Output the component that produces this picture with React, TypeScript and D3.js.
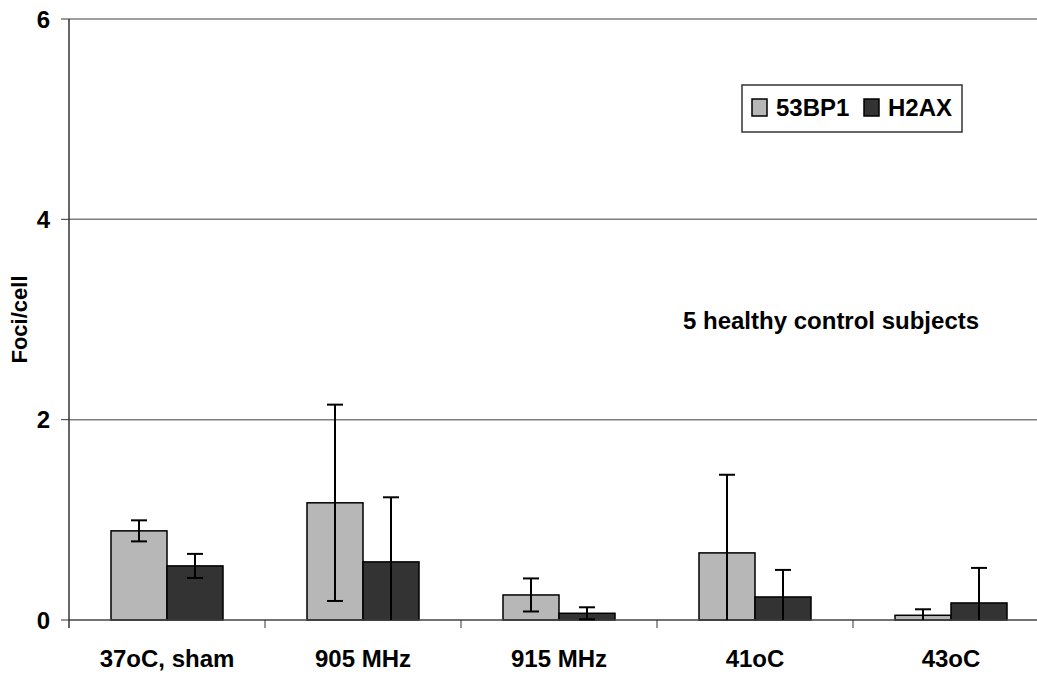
import React, { useEffect, useRef } from "react";
import * as d3 from "d3";

const categories = ["37oC, sham", "905 MHz", "915 MHz", "41oC", "43oC"];
const seriesNames = ["53BP1", "H2AX"];
const values53BP1 = [0.89, 1.17, 0.25, 0.67, 0.047];
const errors53BP1 = [0.105, 0.98, 0.165, 0.78, 0.06];
const valuesH2AX = [0.54, 0.58, 0.067, 0.23, 0.17];
const errorsH2AX = [0.12, 0.645, 0.06, 0.27, 0.35];
const yTicks = [0, 2, 4, 6];
const seriesColors = ["#b7b7b7", "#333333"];
const note = "5 healthy control subjects";

const W = 1037;
const H = 678;
const FONT = "'Liberation Sans', Arial, sans-serif";

export default function App() {
  const ref = useRef<SVGSVGElement>(null);

  useEffect(() => {
    const svg = d3.select(ref.current);
    svg.selectAll("*").remove();

    const x = d3.scaleBand().domain(categories).range([69, 1049]).paddingInner(0).paddingOuter(0);
    const xs = d3.scaleBand().domain(seriesNames).range([0, x.bandwidth()]).paddingInner(0).paddingOuter(0.75);
    const y = d3.scaleLinear().domain([0, 6]).range([620, 19]);

    // gridlines
    svg.append("g")
      .selectAll("line")
      .data(yTicks.filter((t) => t > 0))
      .join("line")
      .attr("x1", 69)
      .attr("x2", W)
      .attr("y1", (d) => y(d))
      .attr("y2", (d) => y(d))
      .attr("stroke", "#7f7f7f")
      .attr("stroke-width", 1.5);

    // y ticks + labels
    const yAxis = svg.append("g");
    yAxis.selectAll("line")
      .data(yTicks)
      .join("line")
      .attr("x1", 61)
      .attr("x2", 69)
      .attr("y1", (d) => y(d))
      .attr("y2", (d) => y(d))
      .attr("stroke", "#333")
      .attr("stroke-width", 1);
    yAxis.selectAll("text")
      .data(yTicks)
      .join("text")
      .attr("x", 50)
      .attr("y", (d) => y(d))
      .attr("dy", "0.36em")
      .attr("text-anchor", "end")
      .attr("font-family", FONT)
      .attr("font-weight", "bold")
      .attr("font-size", 24)
      .text((d) => d);

    svg.append("text")
      .attr("transform", `translate(27,${y(3)}) rotate(-90)`)
      .attr("text-anchor", "middle")
      .attr("font-family", FONT)
      .attr("font-weight", "bold")
      .attr("font-size", 22)
      .text("Foci/cell");

    // bars
    const rows = categories.map((c, i) => [
      { cat: c, s: seriesNames[0], v: values53BP1[i], e: errors53BP1[i], color: seriesColors[0] },
      { cat: c, s: seriesNames[1], v: valuesH2AX[i], e: errorsH2AX[i], color: seriesColors[1] },
    ]).flat();

    svg.append("g")
      .selectAll("rect")
      .data(rows)
      .join("rect")
      .attr("x", (d) => x(d.cat)! + xs(d.s)!)
      .attr("y", (d) => y(d.v))
      .attr("width", xs.bandwidth())
      .attr("height", (d) => y(0) - y(d.v))
      .attr("fill", (d) => d.color)
      .attr("stroke", "#000")
      .attr("stroke-width", 1.5);

    // x axis
    svg.append("line")
      .attr("x1", 69).attr("x2", W)
      .attr("y1", y(0)).attr("y2", y(0))
      .attr("stroke", "#444").attr("stroke-width", 1.5);
    svg.append("line")
      .attr("x1", 69).attr("x2", 69)
      .attr("y1", y(6)).attr("y2", 628)
      .attr("stroke", "#333").attr("stroke-width", 1.5);
    svg.append("g")
      .selectAll("line")
      .data(categories)
      .join("line")
      .attr("x1", (d) => x(d)! + x.bandwidth())
      .attr("x2", (d) => x(d)! + x.bandwidth())
      .attr("y1", y(0))
      .attr("y2", 628)
      .attr("stroke", "#333");
    svg.append("g")
      .selectAll("text")
      .data(categories)
      .join("text")
      .attr("x", (d) => x(d)! + x.bandwidth() / 2)
      .attr("y", 667)
      .attr("text-anchor", "middle")
      .attr("font-family", FONT)
      .attr("font-weight", "bold")
      .attr("font-size", 24)
      .text((d) => d);

    // error bars
    const eb = svg.append("g").attr("stroke", "#000").attr("stroke-width", 2);
    rows.forEach((d) => {
      const cx = x(d.cat)! + xs(d.s)! + xs.bandwidth() / 2;
      const hi = d.v + d.e;
      const lo = Math.max(0, d.v - d.e);
      eb.append("line").attr("x1", cx).attr("x2", cx).attr("y1", y(hi)).attr("y2", y(lo));
      eb.append("line").attr("x1", cx - 8).attr("x2", cx + 8).attr("y1", y(hi)).attr("y2", y(hi));
      if (d.v - d.e >= 0) {
        eb.append("line").attr("x1", cx - 8).attr("x2", cx + 8).attr("y1", y(lo)).attr("y2", y(lo));
      }
    });

    // legend
    const lg = svg.append("g");
    lg.append("rect")
      .attr("x", 742).attr("y", 85).attr("width", 220).attr("height", 47)
      .attr("fill", "#fff").attr("stroke", "#333").attr("stroke-width", 1.5);
    const legendX = [752, 864];
    seriesNames.forEach((s, i) => {
      lg.append("rect")
        .attr("x", legendX[i]).attr("y", 99).attr("width", 15).attr("height", 17)
        .attr("fill", seriesColors[i]).attr("stroke", "#000").attr("stroke-width", 1.5);
      lg.append("text")
        .attr("x", legendX[i] + 24).attr("y", 116)
        .attr("font-family", FONT).attr("font-weight", "bold").attr("font-size", 24)
        .text(s);
    });

    svg.append("text")
      .attr("x", 683).attr("y", 329)
      .attr("font-family", FONT).attr("font-weight", "bold").attr("font-size", 24)
      .text(note);
  }, []);

  return (
    <svg
      ref={ref}
      width={W}
      height={H}
      style={{ position: "absolute", left: 0, top: 0, background: "#fff" }}
    />
  );
}
